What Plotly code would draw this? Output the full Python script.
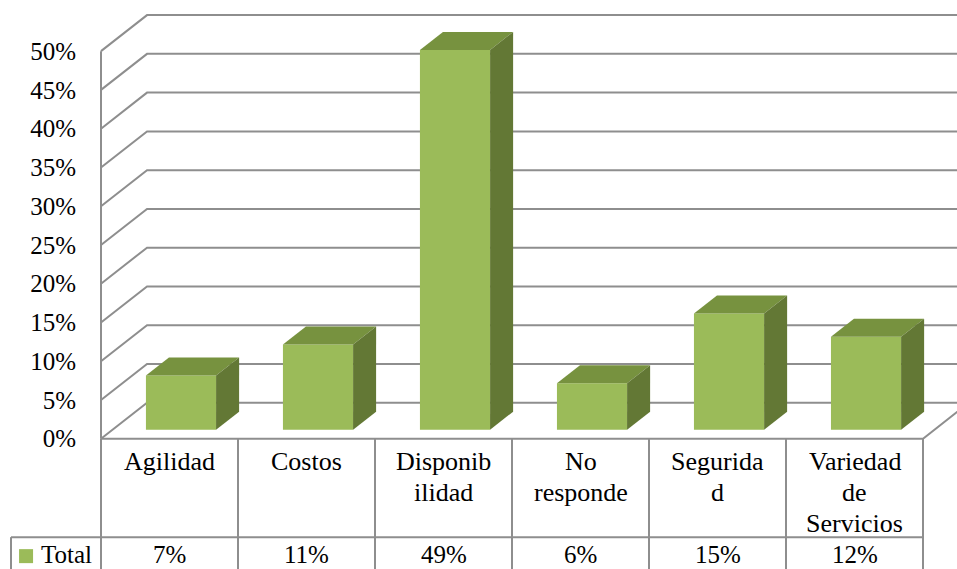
import plotly.graph_objects as go

# Survey shares per category; each label is listed line by line as wrapped in the table
category_lines = [["Agilidad"], ["Costos"], ["Disponib", "ilidad"], ["No", "responde"],
                  ["Segurida", "d"], ["Variedad", "de", "Servicios"]]
values = [7, 11, 49, 6, 15, 12]
series_name = "Total"
y_ticks = [0, 5, 10, 15, 20, 25, 30, 35, 40, 45, 50]

FONT = "Liberation Serif"
FRONT, TOP, SIDE = "#9BBB59", "#77923F", "#637835"
LINE = "#8E8E8E"

# Oblique projection: a full step into the depth of the floor, in axis units
DEPTH_X, DEPTH_Y = 0.336, 4.65
BAR_WIDTH = 0.512
BAR_NEAR, BAR_FAR = 0.25, 0.75

# Visible window in axis units; the walls and the table extend past the 0-50 scale
X_RANGE = [-1.2372, 5.748]
Y_RANGE = [-16.81, 56.6]

# Table layout, in y-axis units below the floor
ROW_SPLIT, ROW_END = -12.7, -17.0
VALUE_ROW = -14.9
LABEL_TOP, LABEL_STEP = -3.0, -4.0
LEFT_EDGE = -1.157


def project(x, y, t):
    return x + t * DEPTH_X, y + t * DEPTH_Y


fig = go.Figure()


def line(xs, ys):
    fig.add_trace(go.Scatter(x=xs, y=ys, mode="lines", line=dict(color=LINE, width=2),
                             hoverinfo="skip", showlegend=False))


# Walls: each gridline runs across the side wall, then along the back wall
for tick in y_ticks:
    bx, by = project(-0.5, tick, 1)
    ex, ey = project(5.5, tick, 1)
    line([-0.5, bx, ex], [tick, by, ey])
line([-0.5, -0.5], [0, 50])

# Floor edges
fx, fy = project(5.5, 0, 1)
line([-0.5, 5.5, fx], [0, 0, fy])

# Data table grid
for i in range(7):
    line([i - 0.5, i - 0.5], [0, ROW_END])
line([LEFT_EDGE, 5.5], [ROW_SPLIT, ROW_SPLIT])
line([LEFT_EDGE, LEFT_EDGE], [ROW_SPLIT, ROW_END])

# Front faces sit on an overlay axis so they cover the gridlines
base = BAR_NEAR * DEPTH_Y
fig.add_trace(go.Bar(x=[i + BAR_NEAR * DEPTH_X for i in range(len(values))], y=values, base=base,
                     width=BAR_WIDTH, marker=dict(color=FRONT, line=dict(width=0)),
                     name=series_name, showlegend=False, xaxis="x2", yaxis="y2"))


def face(points, color):
    fig.add_trace(go.Scatter(x=[p[0] for p in points], y=[p[1] for p in points], mode="lines",
                             line=dict(width=0, color=color), fill="toself", fillcolor=color,
                             hoverinfo="skip", showlegend=False, xaxis="x2", yaxis="y2"))


# Top and right faces of every column
for i, v in enumerate(values):
    left, right = i - BAR_WIDTH / 2, i + BAR_WIDTH / 2
    face([project(left, v, BAR_NEAR), project(right, v, BAR_NEAR),
          project(right, v, BAR_FAR), project(left, v, BAR_FAR)], TOP)
    face([project(right, 0, BAR_NEAR), project(right, 0, BAR_FAR),
          project(right, v, BAR_FAR), project(right, v, BAR_NEAR)], SIDE)

label_font = dict(family=FONT, size=26, color="#000")
value_font = dict(family=FONT, size=25, color="#000")

# Category names and value row of the data table
for i, (lines, v) in enumerate(zip(category_lines, values)):
    for n, text in enumerate(lines):
        fig.add_annotation(x=i, y=LABEL_TOP + n * LABEL_STEP, text=text, showarrow=False,
                           xref="x", yref="y", font=label_font)
    fig.add_annotation(x=i, y=VALUE_ROW, text=f"{v}%", showarrow=False,
                       xref="x", yref="y", font=value_font)

# Legend key in the first table column
fig.add_annotation(x=-0.755, y=VALUE_ROW, text=series_name, showarrow=False,
                   xref="x", yref="y", font=value_font)
fig.add_trace(go.Scatter(x=[-1.047], y=[-15.15], mode="markers",
                         marker=dict(symbol="square", size=14, color=FRONT, line=dict(width=0)),
                         hoverinfo="skip", showlegend=False))

fig.update_layout(
    width=957, height=569, autosize=False,
    margin=dict(l=0, r=0, t=0, b=0, pad=0),
    paper_bgcolor="white", plot_bgcolor="white", showlegend=False,
    xaxis=dict(range=X_RANGE, visible=False),
    yaxis=dict(range=Y_RANGE, tickmode="array", tickvals=y_ticks,
               ticktext=[f"{t}%" for t in y_ticks], anchor="free", position=101 / 957,
               showgrid=False, zeroline=False, showline=False, ticks="outside", ticklen=20,
               tickcolor="rgba(0,0,0,0)", tickfont=value_font),
    xaxis2=dict(range=X_RANGE, overlaying="x", visible=False, anchor="y2"),
    yaxis2=dict(range=Y_RANGE, overlaying="y", visible=False, anchor="x2"),
)

fig.write_html("out.html", config=dict(displayModeBar=False))
